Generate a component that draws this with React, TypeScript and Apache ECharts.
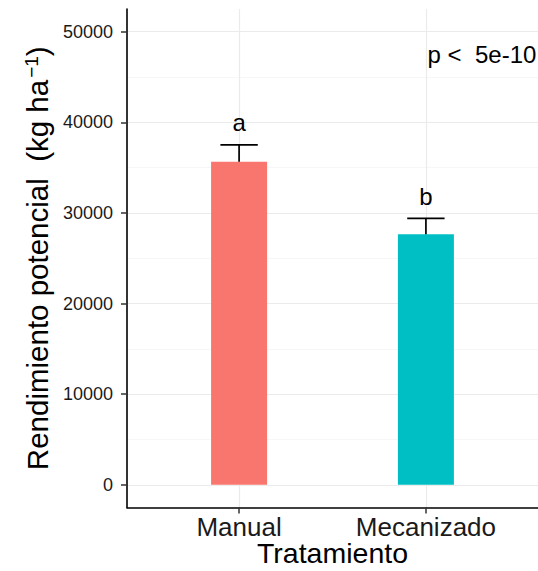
import React, { useEffect, useRef } from "react";
import * as echarts from "echarts";

const categories = ["Manual", "Mecanizado"];
const means = [35650, 27650];
const upperErrors = [37500, 29400];
const letters = ["a", "b"];
const barColors = ["#F8766D", "#00BFC4"];
const yMajorTicks = [0, 10000, 20000, 30000, 40000, 50000];
const yMinorTicks = [5000, 15000, 25000, 35000, 45000];
const pText = "p <  5e-10";
const pPosition = [1.3, 47500];

export default function App() {
  const ref = useRef<HTMLDivElement>(null);
  useEffect(() => {
    if (!ref.current) return;
    const chart = echarts.init(ref.current, undefined, { renderer: "svg" });
    const font = "'Liberation Sans', Arial, Helvetica, sans-serif";
    const catIdx = categories.map((_, i) => i);
    const option: any = {
      animation: false,
      backgroundColor: "#ffffff",
      grid: { left: 127, right: 0, top: 9, bottom: 63.5, containLabel: false, outerBoundsMode: "none" },
      xAxis: {
        type: "value",
        min: -0.6,
        max: 1.6,
        name: "Tratamiento",
        nameLocation: "middle",
        nameMoveOverlap: false,
        nameGap: 31,
        nameTextStyle: { fontFamily: font, fontSize: 28.5, lineHeight: 29, color: "#000" },
        axisLine: { show: true, onZero: false, lineStyle: { color: "#000", width: 1.6 } },
        axisTick: { show: true, length: 6, customValues: catIdx, lineStyle: { color: "#333", width: 1.5 } },
        axisLabel: {
          customValues: catIdx,
          margin: 6,
          fontFamily: font,
          fontSize: 26,
          color: "#1a1a1a",
          formatter: (v: number) => categories[Math.round(v)] ?? "",
        },
        splitLine: { show: true, lineStyle: { color: "#EBEBEB", width: 1.2 } },
      },
      yAxis: [
        {
          type: "value",
          min: -2500,
          max: 52500,
          name: "{t|Rendimiento potencial  (kg ha}{s|−1}{t|)}",
          nameLocation: "middle",
          nameRotate: 90,
          nameGap: 71,
          nameTextStyle: {
            fontFamily: font,
            color: "#000",
            rich: {
              t: { fontFamily: font, fontSize: 29.5, color: "#000" },
              s: { fontFamily: font, fontSize: 19, color: "#000", verticalAlign: "top", padding: [0, 0, 0, 2] },
            },
          },
          axisLine: { show: true, onZero: false, lineStyle: { color: "#000", width: 1.6 } },
          axisTick: { show: true, length: 6, customValues: yMajorTicks, lineStyle: { color: "#333", width: 1.5 } },
          axisLabel: {
            customValues: yMajorTicks,
            margin: 14,
            fontFamily: font,
            fontSize: 18,
            color: "#1a1a1a",
            formatter: (v: number) => String(v),
          },
          splitLine: { show: true, lineStyle: { color: "#EBEBEB", width: 1.2 } },
        },
        {
          type: "value",
          min: -2500,
          max: 52500,
          axisLine: { show: false },
          axisTick: { show: false, customValues: yMinorTicks },
          axisLabel: { show: false, customValues: yMinorTicks },
          splitLine: { show: true, lineStyle: { color: "#F3F3F3", width: 0.7 } },
        },
      ],
      series: [
        {
          type: "bar",
          barWidth: 56,
          z: 2,
          data: categories.map((_, i) => ({
            value: [i, means[i]],
            itemStyle: { color: barColors[i] },
          })),
        },
        {
          type: "custom",
          z: 3,
          data: categories.map((_, i) => [i, means[i], upperErrors[i]]),
          renderItem: (params: any, api: any) => {
            const x = api.value(0);
            const base = api.coord([x, api.value(1)]);
            const top = api.coord([x, api.value(2)]);
            const half = api.size([0.2, 0])[0] / 2;
            const i = params.dataIndex;
            const style = { stroke: "#000", lineWidth: 1.7 };
            return {
              type: "group",
              children: [
                { type: "line", shape: { x1: base[0], y1: base[1], x2: top[0], y2: top[1] }, style },
                { type: "line", shape: { x1: top[0] - half, y1: top[1], x2: top[0] + half, y2: top[1] }, style },
                {
                  type: "text",
                  style: {
                    text: letters[i],
                    x: top[0],
                    y: top[1] - 10,
                    align: "center",
                    verticalAlign: "bottom",
                    fontFamily: font,
                    fontSize: 24,
                    fill: "#000",
                  },
                },
              ],
            };
          },
        },
        {
          type: "custom",
          z: 3,
          data: [pPosition],
          renderItem: (params: any, api: any) => {
            const p = api.coord([api.value(0), api.value(1)]);
            return {
              type: "text",
              style: {
                text: pText,
                x: p[0],
                y: p[1],
                align: "center",
                verticalAlign: "middle",
                fontFamily: font,
                fontSize: 24,
                fill: "#000",
              },
            };
          },
        },
      ],
    };
    chart.setOption(option);
    return () => chart.dispose();
  }, []);
  return (
    <div
      ref={ref}
      style={{ position: "fixed", left: 0, top: 0, width: 538, height: 571, background: "#fff" }}
    />
  );
}
